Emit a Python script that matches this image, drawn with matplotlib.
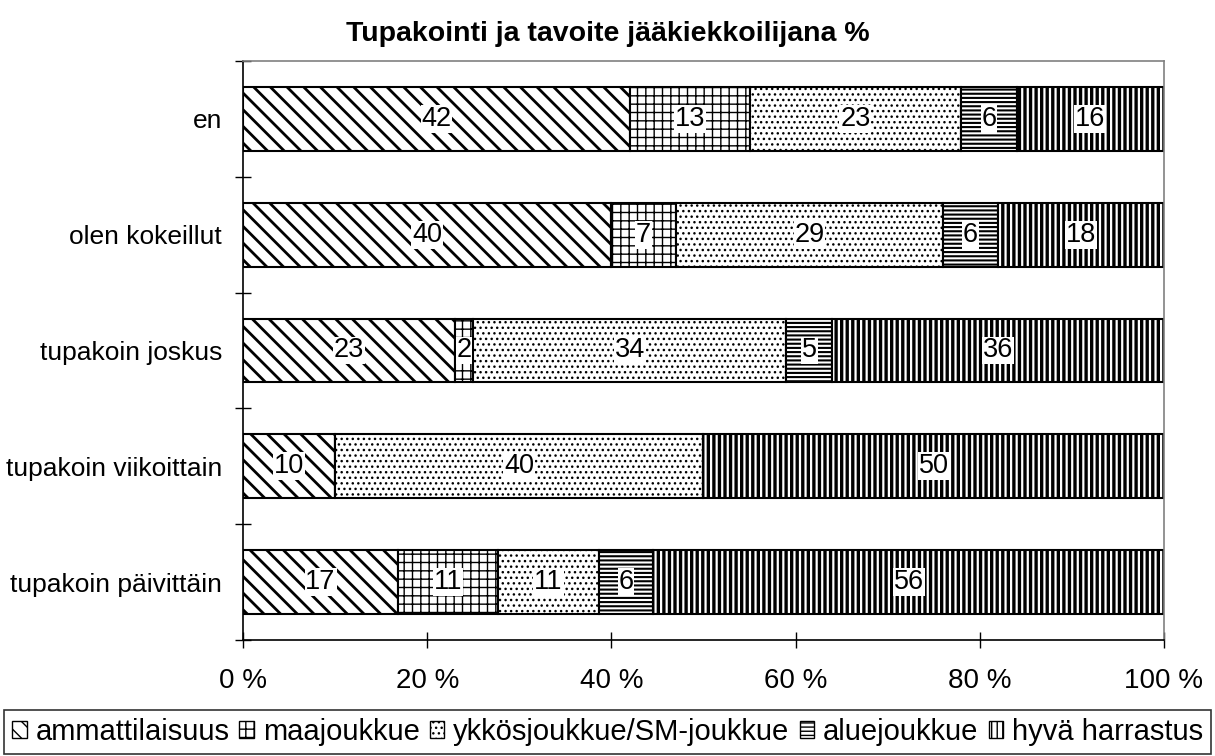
import matplotlib
matplotlib.use("Agg")
import matplotlib.pyplot as plt
import numpy as np

categories = ["en", "olen kokeillut", "tupakoin joskus", "tupakoin viikoittain", "tupakoin päivittäin"]
series = ["ammattilaisuus", "maajoukkue", "ykkösjoukkue/SM-joukkue", "aluejoukkue", "hyvä harrastus"]
ammattilaisuus = [42, 40, 23, 10, 17]
maajoukkue = [13, 7, 2, 0, 11]
ykkosjoukkue = [23, 29, 34, 40, 11]
aluejoukkue = [6, 6, 5, 0, 6]
hyva_harrastus = [16, 18, 36, 50, 56]
xticklabels = ["0 %", "20 %", "40 %", "60 %", "80 %", "100 %"]
title = "Tupakointi ja tavoite jääkiekkoilijana %"

plt.rcParams['font.family'] = ['Liberation Sans', 'DejaVu Sans']
plt.rcParams['hatch.linewidth'] = 1.5
plt.rcParams['hatch.color'] = 'black'

values = np.array([ammattilaisuus, maajoukkue, ykkosjoukkue, aluejoukkue, hyva_harrastus], dtype=float)
totals = values.sum(axis=0)
shares = values / totals * 100
BS = chr(92)
hatches = [BS * 2, '++', '...', '----', '|||']
hatch_lw = [2.0, 1.0, 1.0, 1.5, 2.4]

fig = plt.figure(figsize=(12.15, 7.56), dpi=100)
ax = fig.add_axes([243/1215, 1 - 640/756, (1164-243)/1215, (640-61)/756])

y = np.arange(len(categories))
left = np.zeros(len(categories))
handles = []
for i, name in enumerate(series):
    bars = ax.barh(y, shares[i], left=left, height=0.55, color='white',
                   edgecolor='black', linewidth=1.5, hatch=hatches[i], label=name)
    for p in bars.patches:
        if hasattr(p, 'set_hatch_linewidth'):
            p.set_hatch_linewidth(hatch_lw[i])
    handles.append(bars)
    for j in range(len(categories)):
        if values[i, j] > 0:
            ax.text(left[j] + shares[i, j] / 2, y[j], f"{int(values[i, j])}",
                    ha='center', va='center', fontsize=19.5,
                    bbox=dict(facecolor='white', edgecolor='none', pad=0.5))
    left += shares[i]

ax.set_xlim(0, 100)
ax.set_ylim(len(categories) - 0.5, -0.5)
ax.set_xticks(np.arange(0, 101, 20))
ax.set_xticklabels(xticklabels, fontsize=20)
ax.set_yticks(y)
ax.set_yticklabels(categories, fontsize=19)
ax.set_yticks(np.arange(-0.5, len(categories) + 0.5, 1), minor=True)
ax.tick_params(axis='y', which='major', length=0, pad=15)
ax.tick_params(axis='y', which='minor', direction='inout', length=12, width=1)
ax.tick_params(axis='x', which='major', direction='inout', length=12, width=1, pad=14)
for s in ['top', 'right']:
    ax.spines[s].set_color('#808080')
    ax.spines[s].set_linewidth(1.2)
for s in ['left', 'bottom']:
    ax.spines[s].set_color('black')
    ax.spines[s].set_linewidth(1.2)

fig.text(0.5, 1 - 34/756, title, ha='center', va='center', fontsize=20.5, fontweight='bold')

leg = fig.legend(handles=handles, labels=series, loc='center', ncol=5,
                 bbox_to_anchor=(0.5, 1 - 732/756), fontsize=21, frameon=True,
                 fancybox=False, edgecolor='black', handlelength=0.5, handleheight=0.5,
                 handletextpad=0.3, columnspacing=0.35, borderpad=0.28, borderaxespad=0)
leg.get_frame().set_linewidth(1.2)
for h in leg.legend_handles:
    if hasattr(h, 'set_hatch_linewidth'):
        h.set_hatch_linewidth(1.0)
    h.set_linewidth(1.0)

fig.savefig("out.png", dpi=100)
